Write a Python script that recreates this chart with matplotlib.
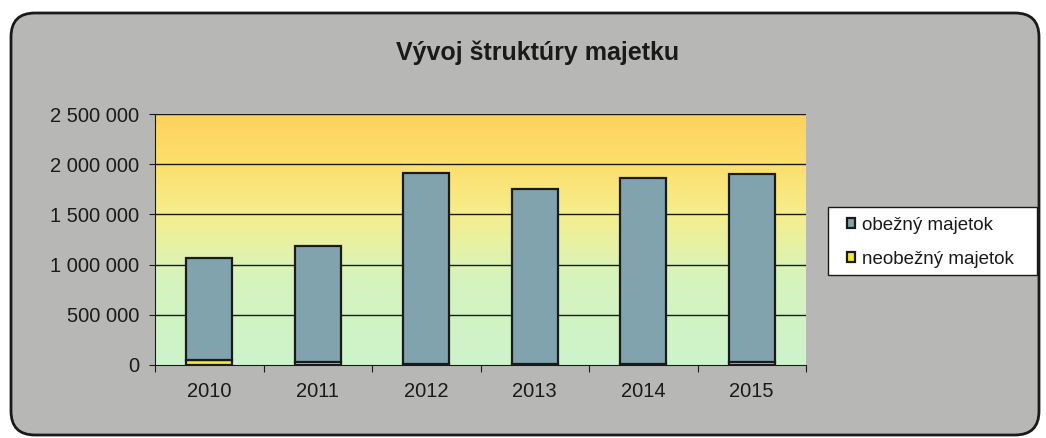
import numpy as np
import matplotlib as mpl
mpl.use('AGG')
import matplotlib.pyplot as plt
from matplotlib.patches import FancyBboxPatch, Rectangle
from matplotlib.transforms import IdentityTransform
from matplotlib.colors import LinearSegmentedColormap

mpl.rcParams['font.family'] = ['Liberation Sans', 'DejaVu Sans']
mpl.rcParams['font.size'] = 14

years = ['2010', '2011', '2012', '2013', '2014', '2015']
neobezny = [45000, 30000, 12000, 8000, 8000, 30000]
obezny = [1025000, 1155000, 1897000, 1748000, 1852000, 1872000]
yticks = [0, 500000, 1000000, 1500000, 2000000, 2500000]
ytick_labels = ['0', '500 000', '1 000 000', '1 500 000', '2 000 000', '2 500 000']

W, H = 1046, 438
fig = plt.figure(figsize=(W / 100, H / 100), dpi=100)
fig.patch.set_facecolor('white')

# rounded grey chart area (pixel coords)
bg = FancyBboxPatch((11, 3), 1028, 422, boxstyle='round,pad=0,rounding_size=24',
                    transform=IdentityTransform(), facecolor='#b7b8b6',
                    edgecolor='#1a1a1a', linewidth=2.0, zorder=-10)
fig.add_artist(bg)

ax = fig.add_axes([155 / W, (H - 365) / H, 651 / W, 251 / H])
ax.set_facecolor('none')
ax.set_zorder(1)

x = np.arange(len(years))
ax.set_xlim(-0.5, len(years) - 0.5)
ax.set_ylim(0, 2500000)

# plot area gradient (orange top -> yellow -> pale green bottom)
cmap = LinearSegmentedColormap.from_list('bg', [
    (0.0, '#cdf3cb'), (0.35, '#d6f4bd'), (0.6, '#f6ee8c'),
    (0.8, '#fcdf6e'), (1.0, '#fdd15c')])
grad = np.linspace(0, 1, 256).reshape(-1, 1)
ax.imshow(grad, extent=[-0.5, len(years) - 0.5, 0, 2500000], origin='lower',
          aspect='auto', cmap=cmap, zorder=0)

for yv in yticks[1:]:
    ax.axhline(yv, color='#1a1a1a', linewidth=1.0, zorder=1)

w = 0.42
ax.bar(x, neobezny, w, color='#f2ec2a', edgecolor='#1a1a1a', linewidth=1.6,
       zorder=2, label='neobežný majetok')
ax.bar(x, obezny, w, bottom=neobezny, color='#80a3ad', edgecolor='#1a1a1a',
       linewidth=1.6, zorder=2, label='obežný majetok')

for s in ['top', 'right']:
    ax.spines[s].set_visible(False)
ax.spines['left'].set_color('#1a1a1a')
ax.spines['bottom'].set_color('#1a1a1a')
ax.spines['left'].set_zorder(3)
ax.spines['bottom'].set_zorder(3)

ax.set_yticks(yticks)
ax.set_yticklabels(ytick_labels)
ax.tick_params(axis='y', length=4.5, direction='out', pad=7, labelsize=14.5,
               color='#1a1a1a', labelcolor='#1a1a1a')

ax.set_xticks(np.arange(len(years) + 1) - 0.5)
ax.set_xticklabels([])
ax.set_xticks(x, minor=True)
ax.set_xticklabels(years, minor=True)
ax.tick_params(axis='x', which='major', length=5, direction='out', color='#1a1a1a')
ax.tick_params(axis='x', which='minor', length=0, pad=12, labelsize=14.5,
               labelcolor='#1a1a1a')

fig.text(538 / W, (H - 53) / H, 'Vývoj štruktúry majetku', ha='center', va='center',
         fontsize=18, fontweight='bold', color='#1a1a1a')

# legend box
fig.add_artist(Rectangle((828, H - 275), 209, 68, transform=IdentityTransform(),
                         facecolor='white', edgecolor='#1a1a1a', linewidth=1.0,
                         zorder=5))
h, l = ax.get_legend_handles_labels()
leg = fig.legend(h[::-1], l[::-1], loc='center left',
                 bbox_to_anchor=(843 / W, (H - 242.5) / H),
                 frameon=False, fontsize=13.5,
                 handlelength=0.45, handleheight=0.45, handletextpad=0.35,
                 labelspacing=0.9, borderpad=0.2, borderaxespad=0)
leg.set_zorder(6)
for t in leg.get_texts():
    t.set_color('#1a1a1a')

fig.savefig('out.png', dpi=100)
